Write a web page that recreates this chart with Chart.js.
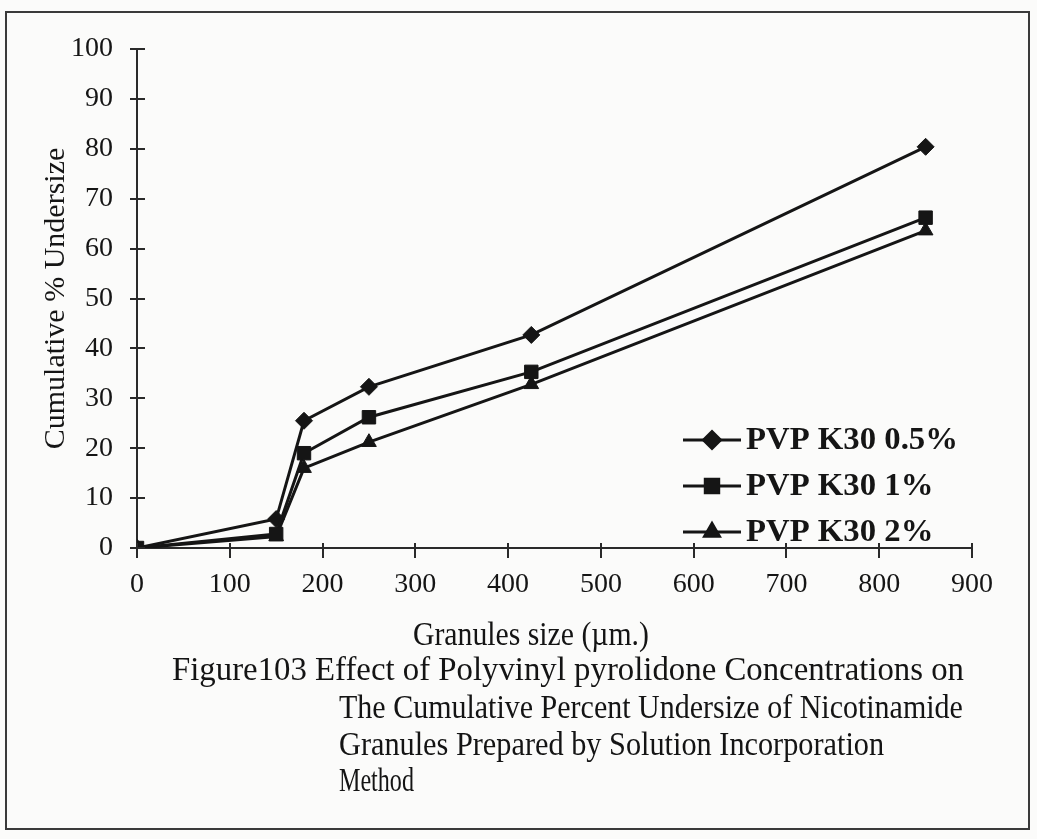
<!DOCTYPE html>
<html>
<head>
<meta charset="utf-8">
<script src="https://cdn.jsdelivr.net/npm/chart.js@4.4.1/dist/chart.umd.min.js"></script>
<style>
  html, body { margin: 0; padding: 0; background: #fbfbfa; }
  #wrap { position: relative; width: 1037px; height: 839px; overflow: hidden; }
  #c { position: absolute; left: 0; top: 0; }
  #frame { position: absolute; left: 5px; top: 11px; width: 1025px; height: 819px; border: 2px solid #3a3a3a; box-sizing: border-box; }
  .cap { position: absolute; white-space: nowrap; font-family: "Liberation Serif", "Times New Roman", serif; color: #141414; font-size: 33px; line-height: 1; transform-origin: 0 50%; }
</style>
</head>
<body>
<div id="wrap">
  <div id="frame"></div>
  <canvas id="c" width="1037" height="839"></canvas>
  <span class="cap" data-x="413" data-y="635" data-w="236">Granules size (µm.)</span>
  <span class="cap" data-x="172" data-y="670" data-w="792">Figure103 Effect of Polyvinyl pyrolidone Concentrations on</span>
  <span class="cap" data-x="339" data-y="708" data-w="624">The Cumulative Percent Undersize of Nicotinamide</span>
  <span class="cap" data-x="339" data-y="745" data-w="545">Granules Prepared by Solution Incorporation</span>
  <span class="cap" data-x="339" data-y="781" data-w="75">Method</span>
</div>
<script>
// ---- data ----
const granuleSizes = [0, 150, 180, 250, 425, 850];
const seriesNames = ["PVP K30 0.5%", "PVP K30 1%", "PVP K30 2%"];
const pvp05 = [0, 5.8, 25.5, 32.3, 42.7, 80.4];
const pvp1  = [0, 2.8, 19.0, 26.2, 35.3, 66.2];
const pvp2  = [0, 2.3, 16.0, 21.2, 32.8, 63.6];
const xTicks = [0, 100, 200, 300, 400, 500, 600, 700, 800, 900];
const yTicks = [0, 10, 20, 30, 40, 50, 60, 70, 80, 90, 100];
const xTitle = "Granules size (µm.)";
const yTitle = "Cumulative % Undersize";

const INK = '#151515';
const toPts = vals => vals.map((v, i) => ({ x: granuleSizes[i], y: v }));
const markers = ['rectRot', 'rect', 'triangle'];
const radii = [8.5, 9.5, 8.5];
const seriesVals = [pvp05, pvp1, pvp2];

const datasets = seriesVals.map((vals, i) => ({
  label: seriesNames[i],
  data: toPts(vals),
  borderColor: INK,
  backgroundColor: INK,
  borderWidth: 3,
  pointStyle: markers[i],
  pointRadius: radii[i],
  pointBorderWidth: 1,
  pointBackgroundColor: INK,
  pointBorderColor: INK,
  tension: 0,
  order: i === 1 ? 0 : 1
}));

// cross ticks on axes
const crossTicks = {
  id: 'crossTicks',
  afterDraw(chart) {
    const ctx = chart.ctx;
    const xs = chart.scales.x, ys = chart.scales.y;
    ctx.save();
    ctx.strokeStyle = '#2a2a2a';
    ctx.lineWidth = 2;
    const ax = ys.right;
    yTicks.forEach(v => {
      const p = Math.round(ys.getPixelForValue(v));
      ctx.beginPath(); ctx.moveTo(ax - 7, p); ctx.lineTo(ax + 8, p); ctx.stroke();
    });
    const ay = xs.top;
    xTicks.forEach(v => {
      const p = Math.round(xs.getPixelForValue(v));
      ctx.beginPath(); ctx.moveTo(p, ay - 5); ctx.lineTo(p, ay + 10); ctx.stroke();
    });
    ctx.restore();
  }
};

// legend drawn inside the plot, line + marker + label
const insideLegend = {
  id: 'insideLegend',
  afterDraw(chart) {
    const ctx = chart.ctx;
    ctx.save();
    const rows = [440, 486, 532];
    ctx.font = 'bold 31px "Liberation Serif", serif';
    const natW = ctx.measureText(chart.data.datasets[0].label).width;
    const sx = 212 / natW;
    chart.data.datasets.forEach((ds, i) => {
      const y = rows[i];
      ctx.strokeStyle = INK; ctx.lineWidth = 3;
      ctx.beginPath(); ctx.moveTo(683, y); ctx.lineTo(741, y); ctx.stroke();
      Chart.helpers.drawPoint(ctx, { pointStyle: ds.pointStyle, radius: ds.pointRadius, borderWidth: 1, rotation: 0 }, 712, y);
      ctx.fillStyle = INK; ctx.fill();
      ctx.save();
      ctx.translate(746, y + 1);
      ctx.scale(sx, 1);
      ctx.fillStyle = INK;
      ctx.textBaseline = 'middle';
      ctx.textAlign = 'left';
      ctx.fillText(ds.label, 0, 0);
      ctx.restore();
    });
    ctx.restore();
  }
};

new Chart(document.getElementById('c'), {
  type: 'line',
  data: { datasets },
  options: {
    responsive: false,
    animation: false,
    layout: { padding: { left: 36, top: 49, right: 65, bottom: 0 } },
    plugins: { legend: { display: false }, tooltip: { enabled: false } },
    scales: {
      x: {
        type: 'linear', min: 0, max: 900,
        afterBuildTicks: s => { s.ticks = xTicks.map(v => ({ value: v })); },
        afterFit: s => { s.height = 291; },
        grid: { display: true, drawOnChartArea: false, drawTicks: false },
        border: { display: true, color: '#2a2a2a', width: 2 },
        ticks: { color: INK, padding: 20, maxRotation: 0, autoSkip: false,
                 font: { family: '"Liberation Serif", serif', size: 28 } }
      },
      y: {
        type: 'linear', min: 0, max: 100,
        afterBuildTicks: s => { s.ticks = yTicks.map(v => ({ value: v })); },
        afterFit: s => { s.width = 101; },
        grid: { display: true, drawOnChartArea: false, drawTicks: false },
        border: { display: true, color: '#2a2a2a', width: 2 },
        title: { display: true, text: yTitle, color: INK, padding: { top: 2, bottom: 0 },
                 font: { family: '"Liberation Serif", serif', size: 30 } },
        ticks: { color: INK, padding: 24, autoSkip: false,
                 font: { family: '"Liberation Serif", serif', size: 28 } }
      }
    }
  },
  plugins: [crossTicks, insideLegend]
});

// place caption lines, fitting each to its measured width
document.querySelectorAll('.cap').forEach(el => {
  const x = +el.dataset.x, y = +el.dataset.y, w = +el.dataset.w;
  const nat = el.getBoundingClientRect().width;
  el.style.left = x + 'px';
  el.style.top = (y - 17) + 'px';
  el.style.transform = 'scaleX(' + (w / nat).toFixed(3) + ')';
});
</script>
</body>
</html>
